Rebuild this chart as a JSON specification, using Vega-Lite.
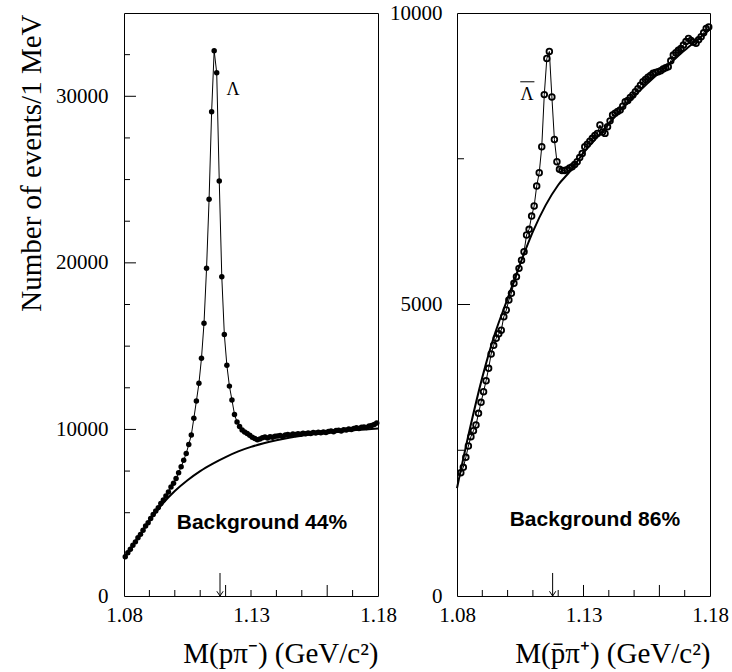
{
  "$schema": "https://vega.github.io/schema/vega-lite/v6.json",
  "background": "white",
  "padding": {"left": 16, "top": 1, "right": 0, "bottom": 5},
  "bounds": "flush",
  "spacing": 79,
  "config": {
    "view": {"stroke": "black", "strokeWidth": 1},
    "axis": {"grid": false, "labelColor": "black", "titleColor": "black", "tickColor": "black", "domain": false, "labelFont": "Liberation Serif", "titleFont": "Liberation Serif", "titleFontWeight": "normal", "labelOverlap": false, "labelFlush": false}
  },
  "datasets": {
    "left_pts": [
      {"m":1.0805,"n":2360},{"m":1.0815,"n":2600},{"m":1.0825,"n":2800},{"m":1.0835,"n":3050},{"m":1.0845,"n":3250},
      {"m":1.0855,"n":3500},{"m":1.0865,"n":3700},{"m":1.0875,"n":3950},{"m":1.0885,"n":4200},{"m":1.0895,"n":4400},
      {"m":1.0905,"n":4650},{"m":1.0915,"n":4900},{"m":1.0925,"n":5100},{"m":1.0935,"n":5300},{"m":1.0945,"n":5550},
      {"m":1.0955,"n":5760},{"m":1.0965,"n":6000},{"m":1.0975,"n":6250},{"m":1.0985,"n":6550},{"m":1.0995,"n":6770},
      {"m":1.1005,"n":7050},{"m":1.1015,"n":7400},{"m":1.1025,"n":7760},{"m":1.1035,"n":8150},{"m":1.1045,"n":8560},
      {"m":1.1055,"n":9100},{"m":1.1065,"n":9665},{"m":1.1075,"n":10666},{"m":1.1085,"n":11700},{"m":1.1095,"n":12766},
      {"m":1.1105,"n":14267},{"m":1.1115,"n":16368},{"m":1.1125,"n":19670},{"m":1.1135,"n":23813},{"m":1.1145,"n":29073},
      {"m":1.1155,"n":32735},{"m":1.1165,"n":31414},{"m":1.1175,"n":24912},{"m":1.1185,"n":19170},{"m":1.1195,"n":15700},
      {"m":1.1205,"n":13850},{"m":1.1215,"n":12600},{"m":1.1225,"n":11770},{"m":1.1235,"n":10900},{"m":1.1245,"n":10450},
      {"m":1.1255,"n":10170},{"m":1.1265,"n":9970},{"m":1.1275,"n":9850},{"m":1.1285,"n":9760},{"m":1.1295,"n":9650},
      {"m":1.1305,"n":9530},{"m":1.1315,"n":9450},{"m":1.1325,"n":9380},{"m":1.1335,"n":9420},{"m":1.1345,"n":9500},
      {"m":1.1355,"n":9550},{"m":1.1365,"n":9480},{"m":1.1375,"n":9560},{"m":1.1385,"n":9530},{"m":1.1395,"n":9590},
      {"m":1.1405,"n":9600},{"m":1.1415,"n":9640},{"m":1.1425,"n":9580},{"m":1.1435,"n":9670},{"m":1.1445,"n":9690},
      {"m":1.1455,"n":9650},{"m":1.1465,"n":9720},{"m":1.1475,"n":9700},{"m":1.1485,"n":9740},{"m":1.1495,"n":9710},
      {"m":1.1505,"n":9770},{"m":1.1515,"n":9740},{"m":1.1525,"n":9790},{"m":1.1535,"n":9760},{"m":1.1545,"n":9810},
      {"m":1.1555,"n":9780},{"m":1.1565,"n":9830},{"m":1.1575,"n":9800},{"m":1.1585,"n":9850},{"m":1.1595,"n":9820},
      {"m":1.1605,"n":9870},{"m":1.1615,"n":9900},{"m":1.1625,"n":9860},{"m":1.1635,"n":9930},{"m":1.1645,"n":9950},
      {"m":1.1655,"n":9910},{"m":1.1665,"n":9980},{"m":1.1675,"n":9960},{"m":1.1685,"n":10020},{"m":1.1695,"n":10000},
      {"m":1.1705,"n":10060},{"m":1.1715,"n":10100},{"m":1.1725,"n":10050},{"m":1.1735,"n":10130},{"m":1.1745,"n":10150},
      {"m":1.1755,"n":10120},{"m":1.1765,"n":10200},{"m":1.1775,"n":10230},{"m":1.1785,"n":10290},{"m":1.1795,"n":10380}
    ],
    "left_bg": [
      {"m":1.080,"n":2250},{"m":1.085,"n":3400},{"m":1.090,"n":4500},{"m":1.095,"n":5500},{"m":1.100,"n":6300},
      {"m":1.105,"n":6950},{"m":1.110,"n":7500},{"m":1.115,"n":7950},{"m":1.120,"n":8340},{"m":1.125,"n":8680},
      {"m":1.130,"n":8950},{"m":1.135,"n":9170},{"m":1.140,"n":9350},{"m":1.145,"n":9500},{"m":1.150,"n":9620},
      {"m":1.155,"n":9720},{"m":1.160,"n":9810},{"m":1.165,"n":9880},{"m":1.170,"n":9950},{"m":1.175,"n":10000},
      {"m":1.180,"n":10050}
    ],
    "right_pts": [
      {"m":1.0815,"n":2115},{"m":1.0825,"n":2207},{"m":1.0835,"n":2379},{"m":1.0845,"n":2573},
      {"m":1.0855,"n":2733},{"m":1.0865,"n":2836},{"m":1.0875,"n":2933},{"m":1.0885,"n":3133},{"m":1.0895,"n":3322},
      {"m":1.0905,"n":3505},{"m":1.0915,"n":3693},{"m":1.0925,"n":3905},{"m":1.0935,"n":4151},{"m":1.0945,"n":4300},
      {"m":1.0955,"n":4420},{"m":1.0965,"n":4500},{"m":1.0975,"n":4560},{"m":1.0985,"n":4790},{"m":1.0995,"n":4906},
      {"m":1.1005,"n":5077},{"m":1.1015,"n":5192},{"m":1.1025,"n":5363},{"m":1.1035,"n":5477},{"m":1.1045,"n":5620},
      {"m":1.1055,"n":5760},{"m":1.1065,"n":5906},{"m":1.1075,"n":6192},{"m":1.1085,"n":6289},{"m":1.1095,"n":6517},
      {"m":1.1105,"n":6689},{"m":1.1115,"n":7032},{"m":1.1125,"n":7260},{"m":1.1135,"n":7706},{"m":1.1145,"n":8600},
      {"m":1.1155,"n":9220},{"m":1.1165,"n":9340},{"m":1.1175,"n":8560},{"m":1.1185,"n":7830},{"m":1.1195,"n":7450},
      {"m":1.1205,"n":7320},{"m":1.1215,"n":7300},{"m":1.1225,"n":7300},{"m":1.1235,"n":7310},{"m":1.1245,"n":7340},
      {"m":1.1255,"n":7363},{"m":1.1265,"n":7400},{"m":1.1275,"n":7449},{"m":1.1285,"n":7520},{"m":1.1295,"n":7592},
      {"m":1.1305,"n":7706},{"m":1.1315,"n":7750},{"m":1.1325,"n":7800},{"m":1.1335,"n":7850},{"m":1.1345,"n":7900},
      {"m":1.1355,"n":7935},{"m":1.1365,"n":8078},{"m":1.1375,"n":7960},{"m":1.1385,"n":7935},{"m":1.1395,"n":8050},
      {"m":1.1405,"n":8150},{"m":1.1415,"n":8250},{"m":1.1425,"n":8280},{"m":1.1435,"n":8310},{"m":1.1445,"n":8335},
      {"m":1.1455,"n":8400},{"m":1.1465,"n":8478},{"m":1.1475,"n":8500},{"m":1.1485,"n":8550},{"m":1.1495,"n":8593},
      {"m":1.1505,"n":8650},{"m":1.1515,"n":8700},{"m":1.1525,"n":8760},{"m":1.1535,"n":8821},{"m":1.1545,"n":8860},
      {"m":1.1555,"n":8900},{"m":1.1565,"n":8930},{"m":1.1575,"n":8965},{"m":1.1585,"n":8980},{"m":1.1595,"n":8993},
      {"m":1.1605,"n":9010},{"m":1.1615,"n":9040},{"m":1.1625,"n":9060},{"m":1.1635,"n":9078},{"m":1.1645,"n":9180},
      {"m":1.1655,"n":9278},{"m":1.1665,"n":9320},{"m":1.1675,"n":9360},{"m":1.1685,"n":9393},{"m":1.1695,"n":9450},
      {"m":1.1705,"n":9510},{"m":1.1715,"n":9565},{"m":1.1725,"n":9530},{"m":1.1735,"n":9500},{"m":1.1745,"n":9479},
      {"m":1.1755,"n":9540},{"m":1.1765,"n":9593},{"m":1.1775,"n":9660},{"m":1.1785,"n":9736},{"m":1.1795,"n":9760}
    ],
    "right_bg": [
      {"m":1.080,"n":1850},{"m":1.085,"n":2850},{"m":1.090,"n":3750},{"m":1.095,"n":4500},{"m":1.100,"n":5100},
      {"m":1.105,"n":5700},{"m":1.110,"n":6250},{"m":1.115,"n":6700},{"m":1.120,"n":7050},{"m":1.125,"n":7300},
      {"m":1.130,"n":7600},{"m":1.135,"n":7850},{"m":1.140,"n":8100},{"m":1.145,"n":8350},{"m":1.150,"n":8570},
      {"m":1.155,"n":8780},{"m":1.160,"n":8980},{"m":1.165,"n":9170},{"m":1.170,"n":9360},{"m":1.175,"n":9540},
      {"m":1.180,"n":9720}
    ],
    "left_yminor": [{"v":2500},{"v":5000},{"v":7500},{"v":12500},{"v":15000},{"v":17500},{"v":22500},{"v":25000},{"v":27500},{"v":32500}],
    "left_ymajor": [{"v":10000},{"v":20000},{"v":30000}],
    "left_xminor": [{"v":1.09},{"v":1.10},{"v":1.11},{"v":1.13},{"v":1.14},{"v":1.15},{"v":1.17}],
    "left_xmajor": [{"v":1.12},{"v":1.16}],
    "right_yminor": [{"v":2500},{"v":7500}],
    "right_ymajor": [{"v":5000}],
    "right_xminor": [{"v":1.09},{"v":1.10},{"v":1.11},{"v":1.12},{"v":1.14},{"v":1.15},{"v":1.17}],
    "right_xmajor": [{"v":1.13},{"v":1.16}],
    "left_lambda": [{"m":1.1229,"n":30377,"t":"Λ"}],
    "left_bgtext": [{"m":1.1343,"n":4383,"t":"Background 44%"}],
    "left_arrow": [{"m":1.1178,"n":0,"n2":1380}],
    "right_lambda": [{"m":1.1077,"n":8593,"t":"Λ"}],
    "right_bar": [{"m":1.1050,"m2":1.1106,"n":8820}],
    "right_bgtext": [{"m":1.1345,"n":1304,"t":"Background 86%"}],
    "right_arrow": [{"m":1.1178,"n":0,"n2":395}]
  },
  "hconcat": [
    {
      "width": 254,
      "height": 583,
      "layer": [
        {
          "data": {"name": "left_pts"},
          "mark": {"type": "line", "color": "black", "strokeWidth": 1},
          "encoding": {
            "x": {"field": "m", "type": "quantitative", "scale": {"domain": [1.08, 1.18], "nice": false, "zero": false},
                  "axis": {"orient": "bottom", "values": [1.08, 1.13, 1.18], "format": ".2f", "ticks": false, "labelFontSize": 21, "labelPadding": 8,
                           "title": "M(pπ⁻) (GeV/c²)", "titleFontSize": 29, "titleAnchor": "end", "titlePadding": 14}},
            "y": {"field": "n", "type": "quantitative", "scale": {"domain": [0, 35000], "nice": false, "zero": true},
                  "axis": {"orient": "left", "values": [0, 10000, 20000, 30000], "format": "d", "ticks": false, "labelFontSize": 21, "labelPadding": 16,
                           "title": "Number of events/1 MeV", "titleFontSize": 29, "titleAngle": -90, "titleAlign": "right", "titleBaseline": "alphabetic", "titleX": -84, "titleY": 1}}
          }
        },
        {
          "data": {"name": "left_pts"},
          "mark": {"type": "point", "shape": "circle", "filled": true, "color": "black", "opacity": 1, "size": 30},
          "encoding": {
            "x": {"field": "m", "type": "quantitative"},
            "y": {"field": "n", "type": "quantitative"}
          }
        },
        {
          "data": {"name": "left_bg"},
          "mark": {"type": "line", "color": "black", "strokeWidth": 2, "interpolate": "monotone"},
          "encoding": {
            "x": {"field": "m", "type": "quantitative"},
            "y": {"field": "n", "type": "quantitative"}
          }
        },
        {
          "data": {"name": "left_yminor"},
          "mark": {"type": "rule", "color": "black", "strokeWidth": 1},
          "encoding": {
            "y": {"field": "v", "type": "quantitative"},
            "x": {"datum": 1.08, "type": "quantitative"},
            "x2": {"datum": 1.08236}
          }
        },
        {
          "data": {"name": "left_ymajor"},
          "mark": {"type": "rule", "color": "black", "strokeWidth": 1},
          "encoding": {
            "y": {"field": "v", "type": "quantitative"},
            "x": {"datum": 1.08, "type": "quantitative"},
            "x2": {"datum": 1.08472}
          }
        },
        {
          "data": {"name": "left_xminor"},
          "mark": {"type": "rule", "color": "black", "strokeWidth": 1},
          "encoding": {
            "x": {"field": "v", "type": "quantitative"},
            "y": {"datum": 0, "type": "quantitative"},
            "y2": {"datum": 360}
          }
        },
        {
          "data": {"name": "left_xmajor"},
          "mark": {"type": "rule", "color": "black", "strokeWidth": 1},
          "encoding": {
            "x": {"field": "v", "type": "quantitative"},
            "y": {"datum": 0, "type": "quantitative"},
            "y2": {"datum": 660}
          }
        },
        {
          "data": {"name": "left_lambda"},
          "mark": {"type": "text", "font": "Liberation Serif", "fontSize": 18, "color": "black"},
          "encoding": {
            "x": {"field": "m", "type": "quantitative"},
            "y": {"field": "n", "type": "quantitative"},
            "text": {"field": "t"}
          }
        },
        {
          "data": {"name": "left_bgtext"},
          "mark": {"type": "text", "font": "Liberation Sans", "fontWeight": "bold", "fontSize": 21, "color": "black"},
          "encoding": {
            "x": {"field": "m", "type": "quantitative"},
            "y": {"field": "n", "type": "quantitative"},
            "text": {"field": "t"}
          }
        },
        {
          "data": {"name": "left_arrow"},
          "mark": {"type": "rule", "color": "black", "strokeWidth": 1},
          "encoding": {
            "x": {"field": "m", "type": "quantitative"},
            "y": {"field": "n", "type": "quantitative"},
            "y2": {"field": "n2"}
          }
        },
        {
          "data": {"name": "left_arrow"},
          "mark": {"type": "point", "shape": "M-1,-1.5L0,0L1,-1.5", "filled": false, "color": "black", "strokeWidth": 1, "size": 40, "opacity": 1},
          "encoding": {
            "x": {"field": "m", "type": "quantitative"},
            "y": {"field": "n", "type": "quantitative"}
          }
        }
      ]
    },
    {
      "width": 253,
      "height": 583,
      "layer": [
        {
          "data": {"name": "right_pts"},
          "mark": {"type": "line", "color": "black", "strokeWidth": 1},
          "encoding": {
            "x": {"field": "m", "type": "quantitative", "scale": {"domain": [1.08, 1.18], "nice": false, "zero": false},
                  "axis": {"orient": "bottom", "values": [1.08, 1.13, 1.18], "format": ".2f", "ticks": false, "labelFontSize": 21, "labelPadding": 8,
                           "title": "M(p̄π⁺) (GeV/c²)", "titleFontSize": 29, "titleAnchor": "end", "titlePadding": 14}},
            "y": {"field": "n", "type": "quantitative", "scale": {"domain": [0, 10000], "nice": false, "zero": true},
                  "axis": {"orient": "left", "values": [0, 5000, 10000], "format": "d", "ticks": false, "labelFontSize": 21, "labelPadding": 15, "title": null}}
          }
        },
        {
          "data": {"name": "right_pts"},
          "mark": {"type": "point", "shape": "circle", "filled": false, "color": "black", "opacity": 1, "strokeWidth": 1.8, "size": 32},
          "encoding": {
            "x": {"field": "m", "type": "quantitative"},
            "y": {"field": "n", "type": "quantitative"}
          }
        },
        {
          "data": {"name": "right_bg"},
          "mark": {"type": "line", "color": "black", "strokeWidth": 2, "interpolate": "monotone"},
          "encoding": {
            "x": {"field": "m", "type": "quantitative"},
            "y": {"field": "n", "type": "quantitative"}
          }
        },
        {
          "data": {"name": "right_yminor"},
          "mark": {"type": "rule", "color": "black", "strokeWidth": 1},
          "encoding": {
            "y": {"field": "v", "type": "quantitative"},
            "x": {"datum": 1.08, "type": "quantitative"},
            "x2": {"datum": 1.08277}
          }
        },
        {
          "data": {"name": "right_ymajor"},
          "mark": {"type": "rule", "color": "black", "strokeWidth": 1},
          "encoding": {
            "y": {"field": "v", "type": "quantitative"},
            "x": {"datum": 1.08, "type": "quantitative"},
            "x2": {"datum": 1.08514}
          }
        },
        {
          "data": {"name": "right_xminor"},
          "mark": {"type": "rule", "color": "black", "strokeWidth": 1},
          "encoding": {
            "x": {"field": "v", "type": "quantitative"},
            "y": {"datum": 0, "type": "quantitative"},
            "y2": {"datum": 103}
          }
        },
        {
          "data": {"name": "right_xmajor"},
          "mark": {"type": "rule", "color": "black", "strokeWidth": 1},
          "encoding": {
            "x": {"field": "v", "type": "quantitative"},
            "y": {"datum": 0, "type": "quantitative"},
            "y2": {"datum": 189}
          }
        },
        {
          "data": {"name": "right_lambda"},
          "mark": {"type": "text", "font": "Liberation Serif", "fontSize": 18, "color": "black"},
          "encoding": {
            "x": {"field": "m", "type": "quantitative"},
            "y": {"field": "n", "type": "quantitative"},
            "text": {"field": "t"}
          }
        },
        {
          "data": {"name": "right_bar"},
          "mark": {"type": "rule", "color": "black", "strokeWidth": 1},
          "encoding": {
            "x": {"field": "m", "type": "quantitative"},
            "x2": {"field": "m2"},
            "y": {"field": "n", "type": "quantitative"}
          }
        },
        {
          "data": {"name": "right_bgtext"},
          "mark": {"type": "text", "font": "Liberation Sans", "fontWeight": "bold", "fontSize": 21, "color": "black"},
          "encoding": {
            "x": {"field": "m", "type": "quantitative"},
            "y": {"field": "n", "type": "quantitative"},
            "text": {"field": "t"}
          }
        },
        {
          "data": {"name": "right_arrow"},
          "mark": {"type": "rule", "color": "black", "strokeWidth": 1},
          "encoding": {
            "x": {"field": "m", "type": "quantitative"},
            "y": {"field": "n", "type": "quantitative"},
            "y2": {"field": "n2"}
          }
        },
        {
          "data": {"name": "right_arrow"},
          "mark": {"type": "point", "shape": "M-1,-1.5L0,0L1,-1.5", "filled": false, "color": "black", "strokeWidth": 1, "size": 40, "opacity": 1},
          "encoding": {
            "x": {"field": "m", "type": "quantitative"},
            "y": {"field": "n", "type": "quantitative"}
          }
        }
      ]
    }
  ]
}
